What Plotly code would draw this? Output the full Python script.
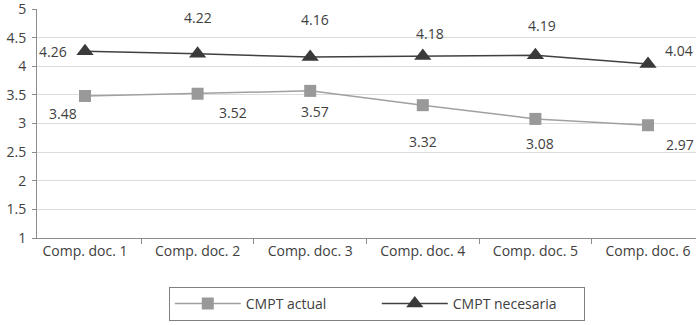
import plotly.graph_objects as go

categories = ["Comp. doc. 1", "Comp. doc. 2", "Comp. doc. 3", "Comp. doc. 4", "Comp. doc. 5", "Comp. doc. 6"]
cmpt_actual = [3.48, 3.52, 3.57, 3.32, 3.08, 2.97]
cmpt_necesaria = [4.26, 4.22, 4.16, 4.18, 4.19, 4.04]
y_ticks = [1, 1.5, 2, 2.5, 3, 3.5, 4, 4.5, 5]

# label offsets (pixels) relative to each point
actual_offsets = [(-22, -17), (35, -19), (5, -21), (0, -36), (5, -25), (32, -19)]
necesaria_offsets = [(-32, 0), (0, 36), (5, 38), (7, 22), (7, 30), (31, 13)]

FONT = "Open Sans"
TXT = "#404040"

fig = go.Figure()
fig.add_trace(go.Scatter(
    x=categories, y=cmpt_actual, name="CMPT actual", mode="lines+markers",
    line=dict(color="#a0a0a0", width=1.5),
    marker=dict(symbol="square", size=12, color="#999999"),
))
fig.add_trace(go.Scatter(
    x=categories, y=cmpt_necesaria, name="CMPT necesaria", mode="lines+markers",
    line=dict(color="#404040", width=1.5),
    marker=dict(symbol="triangle-up", size=15, color="#3a3a3a"),
))

for cat, v, (dx, dy) in zip(categories, cmpt_actual, actual_offsets):
    fig.add_annotation(x=cat, y=v, text=f"{v:.2f}", showarrow=False,
                       xshift=dx, yshift=dy, font=dict(family=FONT, size=14, color=TXT))
for cat, v, (dx, dy) in zip(categories, cmpt_necesaria, necesaria_offsets):
    fig.add_annotation(x=cat, y=v, text=f"{v:.2f}", showarrow=False,
                       xshift=dx, yshift=dy, font=dict(family=FONT, size=14, color=TXT))

fig.update_layout(
    width=697, height=325,
    margin=dict(l=37, r=1, t=9, b=87, autoexpand=False),
    paper_bgcolor="white", plot_bgcolor="white",
    font=dict(family=FONT, size=14, color=TXT),
    showlegend=True,
    legend=dict(
        orientation="h", x=0.2, xanchor="left", y=-0.214, yanchor="top",
        bordercolor="#808080", borderwidth=1,
        font=dict(family=FONT, size=14, color=TXT),
        entrywidth=126, itemwidth=66,
    ),
)
fig.update_xaxes(
    type="category", showgrid=False, showline=True, linecolor="#8c8c8c", linewidth=1,
    ticks="outside", tickson="boundaries", ticklen=5, tickcolor="#8c8c8c",
    tickfont=dict(family=FONT, size=14, color=TXT),
)
fig.update_yaxes(
    range=[1, 5], tickvals=y_ticks, ticktext=[f"{t:g}" for t in y_ticks],
    showgrid=True, gridcolor="#dcdcdc", gridwidth=1,
    showline=True, linecolor="#8c8c8c", linewidth=1,
    ticks="outside", ticklen=4, tickcolor="#8c8c8c", zeroline=False,
    ticklabeloverflow="allow", ticklabelstandoff=3,
    tickfont=dict(family=FONT, size=14, color=TXT),
)

fig.write_html("out.html", config={"displayModeBar": False},
               post_script="document.body.style.margin='0';")
